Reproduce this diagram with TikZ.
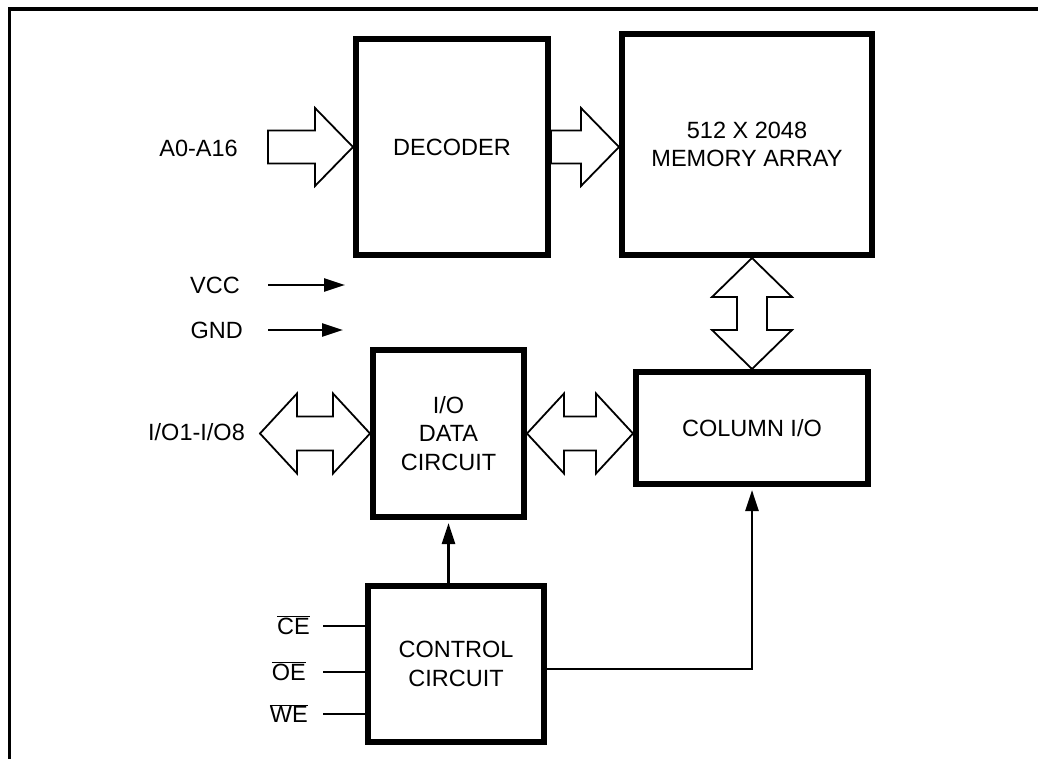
\documentclass[tikz,border=0pt]{standalone}
\usepackage{fontspec}
\setmainfont{Liberation Sans}
\usetikzlibrary{arrows.meta,calc}

% hollow bus arrows: tail/tip given as coordinates on one line
\newcommand{\hbus}[2]{%
  \draw[bus] let \p1=(#1), \p2=(#2) in
    (\x1,\y2+16.5pt) -- (\x2-38pt,\y2+16.5pt) -- (\x2-38pt,\y2+39pt) -- (\x2,\y2)
    -- (\x2-38pt,\y2-39pt) -- (\x2-38pt,\y2-16.5pt) -- (\x1,\y2-16.5pt) -- cycle;}
\newcommand{\hdbus}[2]{%
  \draw[bus] let \p1=(#1), \p2=(#2) in
    (\x1,\y2) -- (\x1+37pt,\y2+40pt) -- (\x1+37pt,\y2+17pt) -- (\x2-37pt,\y2+17pt)
    -- (\x2-37pt,\y2+40pt) -- (\x2,\y2) -- (\x2-37pt,\y2-40pt) -- (\x2-37pt,\y2-17pt)
    -- (\x1+37pt,\y2-17pt) -- (\x1+37pt,\y2-40pt) -- cycle;}
\newcommand{\vdbus}[2]{%
  \draw[bus] let \p1=(#1), \p2=(#2) in
    (\x1,\y1) -- (\x1+40pt,\y1-39pt) -- (\x1+15pt,\y1-39pt) -- (\x1+15pt,\y2+39pt)
    -- (\x1+40pt,\y2+39pt) -- (\x1,\y2) -- (\x1-40pt,\y2+39pt) -- (\x1-15pt,\y2+39pt)
    -- (\x1-15pt,\y1-39pt) -- (\x1-40pt,\y1-39pt) -- cycle;}

\begin{document}
\begin{tikzpicture}[x=1pt,y=-1pt,
	box/.style={draw, line width=6pt, align=center, inner sep=0pt, font=\fontsize{23.5}{28.5}\selectfont},
	bus/.style={draw, line width=1.8pt, line join=miter},
	wire/.style={line width=2.5pt},
	sig/.style={wire, -{Triangle[length=21pt,width=13pt]}},
	lbl/.style={anchor=base east, inner sep=0pt, font=\fontsize{23.5}{28.5}\selectfont}]
	\useasboundingbox (0,0) rectangle (1038,759);
	\draw[line width=3.5pt] (9.5,759) -- (9.5,9) -- (1038,9);

	% blocks
	\node[box, minimum width=192pt, minimum height=216pt] (dec) at (452,147) {DECODER};
	\node[box, minimum width=250pt, minimum height=221pt] (mem) at (747,144.5) {512 X 2048\\MEMORY ARRAY};
	\node[box, minimum width=232pt, minimum height=112pt] (col) at (752,428) {COLUMN I/O};
	\node[box, minimum width=151pt, minimum height=167pt] (io) at (448.5,433.5) {I/O\\DATA\\CIRCUIT};
	\node[box, minimum width=176pt, minimum height=156pt] (ctrl) at (456,664) {CONTROL\\CIRCUIT};

	% pins
	\node[lbl] (addr) at (238,156.5) {A0-A16};
	\node[lbl] (vcc) at (240,293.5) {VCC};
	\node[lbl] (gnd) at (243,338.5) {GND};
	\node[lbl] (iopins) at (245,440.5) {I/O1-I/O8};
	\node[lbl] (ce) at (310,634.5) {$\overline{\mbox{CE}}$};
	\node[lbl] (oe) at (306,680.5) {$\overline{\mbox{OE}}$};
	\node[lbl] (we) at (308,722.5) {$\overline{\mbox{WE}}$};
	\coordinate (addrtail) at (268,148);
	\coordinate (iotip) at (260,432);
	\coordinate (vcctail) at (268,285); \coordinate (vccend) at (345,285);
	\coordinate (gndtail) at (268,330); \coordinate (gndend) at (343,330);
	\coordinate (cein) at (323,626);
	\coordinate (oein) at (323,672);
	\coordinate (wein) at (323,714);

	% buses
	\hbus{addrtail}{dec.west}
	\hbus{dec.east}{mem.west |- dec.east}
	\hdbus{iotip}{io.west}
	\hdbus{io.east}{col.west |- io.east}
	\vdbus{mem.south -| col.north}{col.north}

	% signals
	\draw[sig] (vcctail) -- (vccend);
	\draw[sig] (gndtail) -- (gndend);
	\draw[wire] (cein) -- (cein -| ctrl.west);
	\draw[wire] (oein) -- (oein -| ctrl.west);
	\draw[wire] (wein) -- (wein -| ctrl.west);
	\draw[sig, shorten >=3pt] (io.south |- ctrl.north) -- (io.south);
	\draw[sig, shorten >=3pt] ($(ctrl.east)+(0,5)$) -| (col.south);
\end{tikzpicture}
\end{document}
